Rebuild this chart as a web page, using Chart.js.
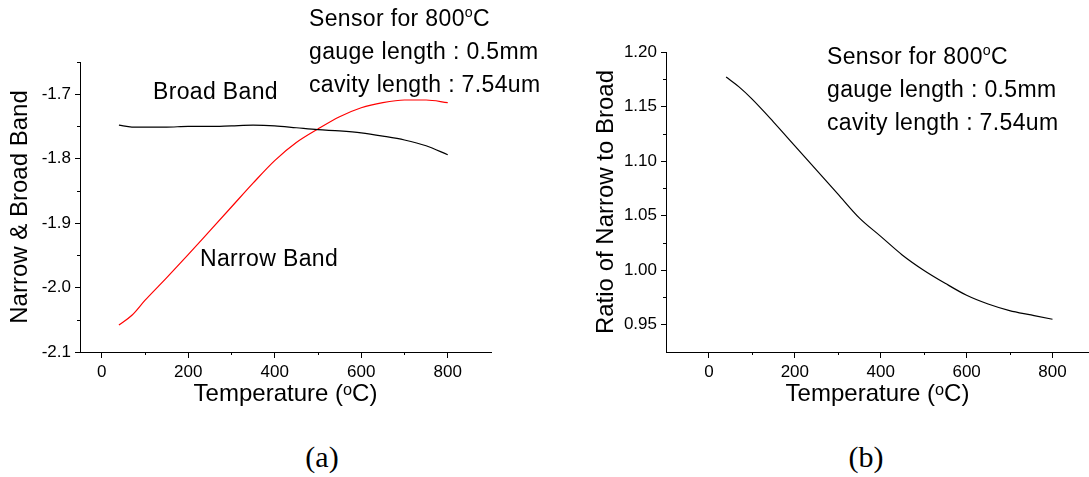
<!DOCTYPE html>
<html>
<head>
<meta charset="utf-8">
<title>Sensor 800 C</title>
<script src="https://cdn.jsdelivr.net/npm/chart.js@4.4.1/dist/chart.umd.min.js"></script>
<style>
    html, body { margin:0; padding:0; background:#fff; }
    #pagina { position:relative; width:1089px; height:477px; overflow:hidden; font-family:"Liberation Sans", Arial, sans-serif; color:#000; }
    .caixa { position:absolute; top:0; height:420px; }
    #caixaA { left:0; width:545px; }
    #caixaB { left:545px; width:544px; }
    .nota { position:absolute; font-size:23px; line-height:33px; letter-spacing:0.35px; white-space:nowrap; }
    .nota sup { font-size:62%; line-height:0; vertical-align:0.62em; }
    .legenda { position:absolute; width:100px; text-align:center; font-family:"Liberation Serif", "Times New Roman", serif; font-size:30px; line-height:30px; }
</style>
</head>
<body>
<div id="pagina">
    <div class="caixa" id="caixaA"><canvas id="bandas"></canvas></div>
    <div class="caixa" id="caixaB"><canvas id="razao"></canvas></div>

    <div class="nota" style="left:309px; top:2px;">Sensor for 800<sup>o</sup>C<br>gauge length : 0.5mm<br>cavity length : 7.54um</div>
    <div class="nota" style="left:153px; top:75px;">Broad Band</div>
    <div class="nota" style="left:200px; top:242px;">Narrow Band</div>
    <div class="nota" style="left:827px; top:40px;">Sensor for 800<sup>o</sup>C<br>gauge length : 0.5mm<br>cavity length : 7.54um</div>

    <div class="legenda" style="left:272px; top:442px;">(a)</div>
    <div class="legenda" style="left:816px; top:442px;">(b)</div>
</div>

<script>
// ==========================================================
// Dados
// ==========================================================

const temperaturas = [40, 70, 100, 150, 200, 250, 300, 350, 400, 450, 500, 550, 600, 650, 700, 750, 800];

const bandaLarga = [-1.748, -1.751, -1.751, -1.751, -1.750, -1.750, -1.749, -1.748, -1.749, -1.752, -1.755, -1.757, -1.760, -1.765, -1.771, -1.780, -1.794];

const bandaEstreita = [-2.058, -2.043, -2.020, -1.985, -1.949, -1.912, -1.875, -1.838, -1.803, -1.775, -1.754, -1.735, -1.721, -1.713, -1.709, -1.709, -1.713];

const razao = [1.177, 1.168, 1.157, 1.136, 1.114, 1.092, 1.070, 1.048, 1.031, 1.014, 1.000, 0.988, 0.977, 0.969, 0.963, 0.959, 0.955];

// ticks
const ticksTemperatura = [0, 200, 400, 600, 800];
const ticksTemperaturaMenores = [100, 300, 500, 700];

const ticksBandas = [-2.1, -2.0, -1.9, -1.8, -1.7];
const ticksBandasMenores = [-2.05, -1.95, -1.85, -1.75, -1.65];

const ticksRazao = [0.95, 1.00, 1.05, 1.10, 1.15, 1.20];
const ticksRazaoMenores = [0.975, 1.025, 1.075, 1.125, 1.175];

const tituloTemperatura = "Temperature (\u1D52C)";

// ==========================================================
// Configuração padrão
// ==========================================================

Chart.defaults.font.family = "'Liberation Sans', Arial, sans-serif";
Chart.defaults.color = "#000";
Chart.defaults.plugins.legend.display = false;
Chart.defaults.plugins.tooltip.enabled = false;

// ==========================================================
// PLUGIN: ticks menores (mais curtos) nos eixos
// ==========================================================

const MENORES = {
    bandas: { x: ticksTemperaturaMenores, y: ticksBandasMenores },
    razao:  { x: ticksTemperaturaMenores, y: ticksRazaoMenores }
};

const ticksMenoresPlugin = {

    id: "ticksMenores",

    afterDraw(chart){

        const menores = MENORES[chart.canvas.id];
        if(!menores) return;

        const {ctx} = chart;
        const sx = chart.scales.x;
        const sy = chart.scales.y;

        ctx.save();
        ctx.strokeStyle = "#000";
        ctx.lineWidth = 1;
        ctx.beginPath();

        menores.x.forEach(v=>{
            const px = Math.round(sx.getPixelForValue(v)) + 0.5;
            ctx.moveTo(px, sx.top);
            ctx.lineTo(px, sx.top + 3);
        });

        menores.y.forEach(v=>{
            const py = Math.round(sy.getPixelForValue(v)) + 0.5;
            ctx.moveTo(sy.right, py);
            ctx.lineTo(sy.right - 3, py);
        });

        ctx.stroke();
        ctx.restore();

    }

};

Chart.register(ticksMenoresPlugin);

// ==========================================================
// Helpers
// ==========================================================

function pontos(valores){
    return temperaturas.map((t, i)=>({x:t, y:valores[i]}));
}

function linha(rotulo, valores, cor){
    return {
        label:rotulo,
        data:pontos(valores),
        borderColor:cor,
        borderWidth:1.2,
        pointRadius:0,
        cubicInterpolationMode:"monotone",
        fill:false
    };
}

function eixoX(min, max){

    return {
        type:"linear",
        min:min,
        max:max,
        afterBuildTicks(scale){
            scale.ticks = ticksTemperatura.map(v=>({value:v}));
        },
        afterFit(scale){
            scale.height = 68;
        },
        grid:{
            drawOnChartArea:false,
            drawTicks:true,
            tickLength:6,
            tickColor:"#000"
        },
        border:{
            display:true,
            color:"#000",
            width:1
        },
        ticks:{
            padding:4,
            maxRotation:0,
            font:{size:17},
            callback:(v)=>String(v)
        },
        title:{
            display:true,
            text:tituloTemperatura,
            font:{size:24},
            padding:{top:0, bottom:11}
        }
    };

}

function eixoY(min, max, ticks, casas, largura, titulo, tituloPadding){

    return {
        type:"linear",
        min:min,
        max:max,
        afterBuildTicks(scale){
            scale.ticks = ticks.map(v=>({value:v}));
        },
        afterFit(scale){
            scale.width = largura;
        },
        grid:{
            drawOnChartArea:false,
            drawTicks:true,
            tickLength:5,
            tickColor:"#000"
        },
        border:{
            display:true,
            color:"#000",
            width:1
        },
        ticks:{
            padding:4,
            font:{size:17},
            callback:(v)=>Number(v).toFixed(casas)
        },
        title:{
            display:true,
            text:titulo,
            font:{size:24},
            padding:{top:tituloPadding, bottom:0}
        }
    };

}

// ==========================================================
// GRÁFICO (a): bandas estreita e larga
// ==========================================================

new Chart(document.getElementById("bandas"),{

    type:"line",

    data:{
        datasets:[
            linha("Broad Band", bandaLarga, "#000"),
            linha("Narrow Band", bandaEstreita, "#FF0000")
        ]
    },

    options:{
        responsive:true,
        maintainAspectRatio:false,
        animation:false,
        layout:{
            padding:{top:62, right:54, left:0, bottom:0}
        },
        scales:{
            x:eixoX(-50, 900),
            y:eixoY(-2.1, -1.65, ticksBandas, 1, 80, "Narrow & Broad Band", 6)
        }
    }

});

// ==========================================================
// GRÁFICO (b): razão estreita / larga
// ==========================================================

new Chart(document.getElementById("razao"),{

    type:"line",

    data:{
        datasets:[
            linha("Ratio", razao, "#000")
        ]
    },

    options:{
        responsive:true,
        maintainAspectRatio:false,
        animation:false,
        layout:{
            padding:{top:52, right:0, left:0, bottom:0}
        },
        scales:{
            x:eixoX(-100, 885),
            y:eixoY(0.925, 1.20, ticksRazao, 2, 121, "Ratio of Narrow to Broad", 47)
        }
    }

});
</script>
</body>
</html>
